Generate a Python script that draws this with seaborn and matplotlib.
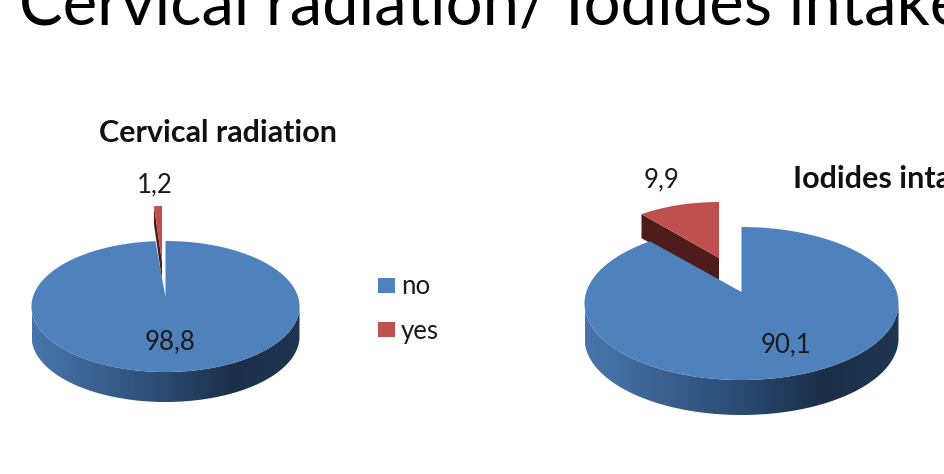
import numpy as np
import seaborn as sns
import matplotlib
matplotlib.use("Agg")
import matplotlib.pyplot as plt
from matplotlib.colors import LinearSegmentedColormap
from matplotlib.patches import Patch, Polygon

categories = ["no", "yes"]
radiation_values = [98.8, 1.2]
iodides_values = [90.1, 9.9]

main_title = "Cervical radiation/ Iodides intake"
radiation_title = "Cervical radiation"
iodides_title = "Iodides intake"

sns.set_theme(style="white")
plt.rcParams["font.family"] = ["Lato", "DejaVu Sans"]

palette = sns.color_palette(["#4F81BD", "#C0504D"])
wall_dark_red = "#4E1D1B"
wall_cmap = LinearSegmentedColormap.from_list(
    "wall", ["#4876AC", "#3A6090", "#2A4A72", "#1B2F49", "#1F3550"]
)

W, H = 945, 474
fig = plt.figure(figsize=(W / 100, H / 100), dpi=100, facecolor="white")
ax = fig.add_axes([0, 0, 1, 1])
ax.set_xlim(0, W)
ax.set_ylim(H, 0)
ax.set_aspect("auto")
ax.axis("off")


def rim(cx, cy, rx, ry, f0, f1, n=160):
    """Points on the elliptical rim between two clockwise fractions from 12 o'clock."""
    t = 2 * np.pi * np.linspace(f0, f1, n)
    return np.column_stack([cx + rx * np.sin(t), cy - ry * np.cos(t)])


def draw_pie(values, cx, cy, rx, ry, apex_dy, depth, slice_geom):
    share = np.asarray(values, dtype=float) / np.sum(values)

    # Gradient side wall below the front half of the disc, lit from the left
    front = rim(cx, cy, rx, ry, 0.25, 0.75)
    wall = np.vstack([front, front[::-1] + [0, depth]])
    gradient = np.linspace(0, 1, 256).reshape(1, -1)
    im = ax.imshow(gradient, cmap=wall_cmap, aspect="auto", zorder=1,
                   extent=[cx - rx, cx + rx, cy + ry + depth, cy - ry])
    im.set_clip_path(Polygon(wall, transform=ax.transData))

    # Pulled-out slice: inner wall first, then its top face
    sx, sy, srx, sry, s_apex_dy, s_depth = slice_geom
    arc = rim(sx, sy, srx, sry, share[0], 1.0)
    s_apex = np.array([[sx, sy + s_apex_dy]])
    inner = np.vstack([arc[:1], s_apex, s_apex + [0, s_depth], arc[:1] + [0, s_depth]])
    ax.fill(inner[:, 0], inner[:, 1], color=wall_dark_red, lw=0, zorder=2)
    top = np.vstack([s_apex, arc])
    ax.fill(top[:, 0], top[:, 1], color=palette[1], lw=0, zorder=3)

    # Main slice top face, with the apex lifted by the perspective
    arc = rim(cx, cy, rx, ry, 0.0, share[0], 400)
    face = np.vstack([[[cx, cy + apex_dy]], arc])
    ax.fill(face[:, 0], face[:, 1], color=palette[0], lw=0, zorder=4)


draw_pie(radiation_values, 165.5, 306.5, 134, 65.5, -9.5, 30,
         (162, 258, 107, 52, 4, 18))
draw_pie(iodides_values, 741.5, 303.5, 157, 76.5, -11.5, 35,
         (719, 267, 133, 65, -9, 24))


def label(value):
    return f"{value:.1f}".replace(".", ",")


value_style = dict(ha="center", va="center", fontsize=18.5, color="#1a1a1a", zorder=6)
ax.text(155, 185, label(radiation_values[1]), **value_style)
ax.text(170, 342, label(radiation_values[0]), **value_style)
ax.text(662, 180, label(iodides_values[1]), **value_style)
ax.text(786, 345, label(iodides_values[0]), **value_style)

ax.text(218, 133, radiation_title, ha="center", va="center", fontsize=22,
        fontweight="bold", color="#111111")
ax.text(793, 179, iodides_title, ha="left", va="center", fontsize=22,
        fontweight="bold", color="#111111", clip_on=False)
ax.text(19, 24, main_title, ha="left", va="baseline", fontsize=47,
        color="black", clip_on=False)

handles = [Patch(facecolor=c, edgecolor="none", label=n) for c, n in zip(palette, categories)]
ax.legend(handles=handles, loc="center left", bbox_to_anchor=(378, 309),
          bbox_transform=ax.transData, frameon=False, fontsize=18.5,
          handlelength=0.66, handleheight=0.55, handletextpad=0.23,
          labelspacing=0.75, borderpad=0, borderaxespad=0, labelcolor="#1a1a1a")

fig.savefig("out.png", dpi=100)
